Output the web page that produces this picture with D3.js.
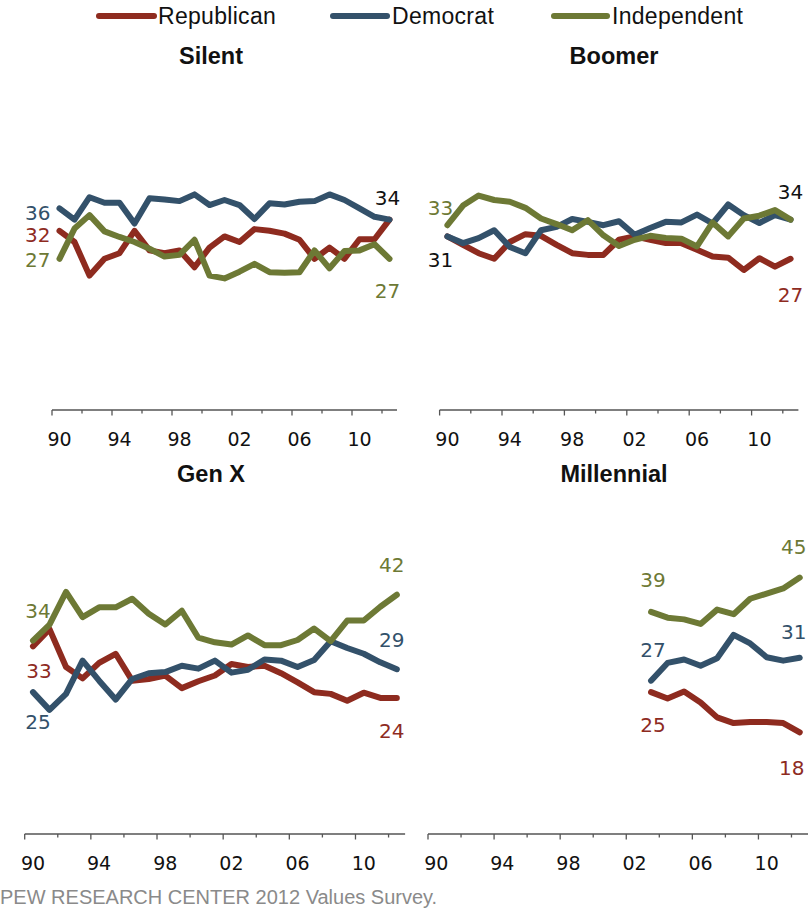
<!DOCTYPE html>
<html>
<head>
<meta charset="utf-8">
<script src="https://cdn.jsdelivr.net/npm/d3@7"></script>
<style>
  body { margin: 0; background: #fff; }
  svg { display: block; }
</style>
</head>
<body>
<svg id="chart" width="809" height="909"></svg>
<script>
// ---------- DATA ----------
const years = d3.range(1990, 2013);               // 1990 ... 2012
const millennialYears = d3.range(2003, 2013);     // 2003 ... 2012
const tickLabels = ["90", "94", "98", "02", "06", "10"];
const seriesNames = ["Republican", "Democrat", "Independent"];
const panelTitles = ["Silent", "Boomer", "Gen X", "Millennial"];

const silentRep = [32,30,24,27,28,32,28.5,28,28.5,25.5,29,31,30,32.3,32,31.5,30.4,27,29,27,30.5,30.5,34];
const silentDem = [36,34,38,37,37,33.3,37.8,37.6,37.3,38.5,36.6,37.5,36.6,34.1,36.9,36.7,37.2,37.3,38.5,37.5,36,34.5,34];
const silentInd = [27,32.4,34.8,31.9,30.9,30,28.8,27.4,27.7,30.4,24,23.5,24.7,26.1,24.6,24.5,24.6,28.5,25.3,28.4,28.5,29.6,27];

const boomerRep = [31,29.5,28,27,30,31.4,31.1,29.5,28,27.7,27.7,30.4,31,30.4,29.8,29.8,28.6,27.4,27.2,25,27.1,25.6,27];
const boomerDem = [31,29.8,30.7,32.1,29.1,28,32.1,32.7,34.1,33.6,33,33.7,31.3,32.5,33.6,33.5,34.9,33.3,36.7,34.8,33.4,34.8,34];
const boomerInd = [33,36.5,38.3,37.5,37.2,36.1,34.2,33.2,32.1,33.9,31.2,29.3,30.4,31.1,30.7,30.6,29.2,33.5,31,34.2,34.7,35.7,34];

const genxRep = [33,36,29.4,27.4,30.1,31.7,27,27.3,27.9,25.7,26.9,27.9,29.9,29.4,29.6,28.3,26.7,25,24.7,23.5,24.9,24,24];
const genxDem = [25,21.9,24.7,30.5,27,23.7,27.3,28.3,28.5,29.6,29.1,30.5,28.4,28.9,30.7,30.5,29.4,30.6,33.9,32.7,31.7,30.2,29];
const genxInd = [34,36.8,42.5,38.1,39.8,39.8,41.3,38.7,36.8,39.2,34.5,33.7,33.3,34.9,33.2,33.2,34.1,36.1,33.9,37.5,37.5,39.9,42];

const millRep = [25,23.9,25.1,23.2,20.6,19.6,19.8,19.8,19.6,18];
const millDem = [27,30.1,30.7,29.6,30.9,35,33.5,31.1,30.5,31];
const millInd = [39,38,37.7,36.9,39.4,38.6,41.3,42.2,43.1,45];

// ---------- STYLE ----------
const colors = { Republican: "#8e2b1f", Democrat: "#33516a", Independent: "#6d7935" };
const labelFont = "DejaVu Sans, Verdana, sans-serif";
const textFont = "Liberation Sans, Arial, sans-serif";

const panels = [
  { title: panelTitles[0], yrs: years, data: [silentRep, silentDem, silentInd],
    x0: 52, x1: 397, axisY: 410, yZero: 410, pxPer: 5.6, titleX: 211, titleY: 56,
    labels: [
      { s: 1, end: false, text: "36", anchor: "end", dx: -9, dy: 4 },
      { s: 0, end: false, text: "32", anchor: "end", dx: -9, dy: 4 },
      { s: 2, end: false, text: "27", anchor: "end", dx: -9, dy: 1 },
      { s: 1, end: true, text: "34", anchor: "middle", dx: -2, dy: -22, black: true },
      { s: 2, end: true, text: "27", anchor: "middle", dx: -2, dy: 32 }
    ] },
  { title: panelTitles[1], yrs: years, data: [boomerRep, boomerDem, boomerInd],
    x0: 439.6, x1: 798.4, axisY: 410, yZero: 410, pxPer: 5.6, titleX: 614, titleY: 56,
    labels: [
      { s: 2, end: false, text: "33", anchor: "middle", dx: -7, dy: -17 },
      { s: 0, end: false, text: "31", anchor: "middle", dx: -7, dy: 23, black: true },
      { s: 1, end: true, text: "34", anchor: "middle", dx: 0, dy: -28, black: true },
      { s: 0, end: true, text: "27", anchor: "middle", dx: 0, dy: 36 }
    ] },
  { title: panelTitles[2], yrs: years, data: [genxRep, genxDem, genxInd],
    x0: 24.7, x1: 405.1, axisY: 834, yZero: 835.4, pxPer: 5.73, titleX: 211, titleY: 474,
    labels: [
      { s: 2, end: false, text: "34", anchor: "middle", dx: 5, dy: -30 },
      { s: 0, end: false, text: "33", anchor: "middle", dx: 6, dy: 24 },
      { s: 1, end: false, text: "25", anchor: "middle", dx: 5, dy: 30 },
      { s: 2, end: true, text: "42", anchor: "middle", dx: -5, dy: -30 },
      { s: 1, end: true, text: "29", anchor: "middle", dx: -5, dy: -29 },
      { s: 0, end: true, text: "24", anchor: "middle", dx: -5, dy: 33 }
    ] },
  { title: panelTitles[3], yrs: millennialYears, data: [millRep, millDem, millInd],
    x0: 428, x1: 808, axisY: 834, yZero: 835.4, pxPer: 5.73, titleX: 614, titleY: 474,
    labels: [
      { s: 2, end: false, text: "39", anchor: "middle", dx: 2, dy: -32 },
      { s: 1, end: false, text: "27", anchor: "middle", dx: 2, dy: -31 },
      { s: 0, end: false, text: "25", anchor: "middle", dx: 2, dy: 33 },
      { s: 2, end: true, text: "45", anchor: "middle", dx: -6, dy: -31 },
      { s: 1, end: true, text: "31", anchor: "middle", dx: -6, dy: -26 },
      { s: 0, end: true, text: "18", anchor: "middle", dx: -8, dy: 36 }
    ] }
];

const svg = d3.select("#chart");

// ---------- LEGEND ----------
const legendItems = [
  { name: seriesNames[0], lx0: 99, lx1: 154, tx: 158 },
  { name: seriesNames[1], lx0: 333, lx1: 387, tx: 392 },
  { name: seriesNames[2], lx0: 554, lx1: 607, tx: 612 }
];
const lg = svg.append("g");
legendItems.forEach(it => {
  lg.append("line").attr("x1", it.lx0).attr("x2", it.lx1).attr("y1", 16).attr("y2", 16)
    .attr("stroke", colors[it.name]).attr("stroke-width", 6).attr("stroke-linecap", "round");
  lg.append("text").attr("x", it.tx).attr("y", 16).attr("dy", "0.35em")
    .attr("font-family", textFont).attr("font-size", 23).attr("letter-spacing", 0.3)
    .attr("fill", "#111").text(it.name);
});

// ---------- PANELS ----------
panels.forEach(p => {
  const g = svg.append("g");
  const x = d3.scaleBand().domain(years).range([p.x0, p.x1]).paddingInner(0).paddingOuter(0);
  const y = d3.scaleLinear().domain([0, 60]).range([p.yZero, p.yZero - 60 * p.pxPer]);
  const cx = yr => x(yr) + x.bandwidth() / 2;

  // title
  g.append("text").attr("x", p.titleX).attr("y", p.titleY).attr("dy", "0.35em")
    .attr("text-anchor", "middle").attr("font-family", textFont)
    .attr("font-weight", "bold").attr("font-size", 23.5).attr("fill", "#111").text(p.title);

  // axis line
  g.append("line").attr("x1", p.x0).attr("x2", p.x1).attr("y1", p.axisY).attr("y2", p.axisY)
    .attr("stroke", "#555").attr("stroke-width", 1.5);
  // ticks every 2 years at category boundaries
  years.filter(yr => (yr - 1990) % 2 === 0).forEach(yr => {
    const major = (yr - 1990) % 4 === 0;
    g.append("line").attr("x1", x(yr)).attr("x2", x(yr))
      .attr("y1", p.axisY).attr("y2", p.axisY + (major ? 5.5 : 3.5))
      .attr("stroke", "#555").attr("stroke-width", 1.3);
  });
  // tick labels
  tickLabels.forEach((t, i) => {
    const yr = 1990 + 4 * i;
    g.append("text").attr("x", cx(yr)).attr("y", p.axisY + 29).attr("dy", "0.35em")
      .attr("text-anchor", "middle").attr("font-family", labelFont).attr("font-size", 19)
      .attr("fill", "#111").text(t);
  });

  // lines
  const line = d3.line().x(d => cx(d[0])).y(d => y(d[1]));
  p.data.forEach((vals, si) => {
    const pts = p.yrs.map((yr, i) => [yr, vals[i]]);
    g.append("path").datum(pts).attr("d", line).attr("fill", "none")
      .attr("stroke", colors[seriesNames[si]]).attr("stroke-width", 6)
      .attr("stroke-linejoin", "round").attr("stroke-linecap", "round");
  });

  // labels
  p.labels.forEach(l => {
    const vals = p.data[l.s];
    const idx = l.end ? vals.length - 1 : 0;
    const yr = p.yrs[idx];
    g.append("text").attr("x", cx(yr) + l.dx).attr("y", y(vals[idx]) + l.dy).attr("dy", "0.36em")
      .attr("text-anchor", l.anchor).attr("font-family", labelFont).attr("font-size", 20)
      .attr("fill", l.black ? "#111" : colors[seriesNames[l.s]]).text(l.text);
  });
});

// ---------- FOOTER ----------
svg.append("text").attr("x", 0).attr("y", 897).attr("dy", "0.35em")
  .attr("font-family", textFont).attr("font-size", 20)
  .attr("fill", "#8a8a8a").text("PEW RESEARCH CENTER 2012 Values Survey.");
</script>
</body>
</html>
